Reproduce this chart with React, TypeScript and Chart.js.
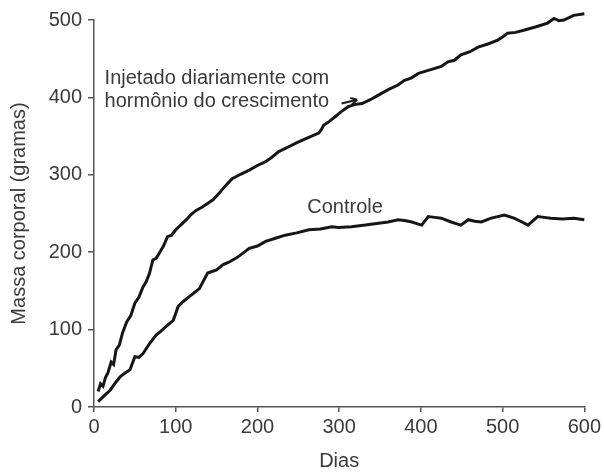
import React, { useEffect, useRef } from "react";
import { Chart, registerables } from "chart.js";

Chart.register(...registerables);

const growthDays = [5, 8, 11, 14, 17, 21, 24, 27, 31, 35, 40, 45, 50, 55, 60, 64, 68, 72, 76, 80, 85, 90, 95, 100, 107, 113, 119, 125, 132, 139, 146, 153, 161, 169, 180, 190, 200, 210, 218, 226, 236, 247, 260, 275, 278, 281, 288, 295, 303, 311, 320, 328, 338, 348, 360, 372, 380, 388, 397, 409, 425, 433, 441, 449, 460, 470, 482, 494, 500, 506, 516, 527, 540, 555, 563, 569, 575, 587, 600];
const growthMass = [20, 30, 27, 38, 44, 58, 55, 74, 80, 96, 110, 118, 134, 142, 155, 162, 173, 190, 192, 199, 208, 220, 222, 229, 236, 242, 249, 254, 258, 263, 268, 276, 286, 295, 301, 306, 312, 317, 323, 330, 335, 341, 347, 354, 358, 364, 369, 375, 382, 388, 391, 392, 397, 403, 410, 416, 422, 425, 431, 435, 440, 446, 448, 455, 459, 465, 469, 474, 478, 483, 484, 487, 491, 496, 502, 499, 500, 506, 508];

const controlDays = [5, 12, 20, 26, 32, 38, 44, 50, 55, 60, 68, 76, 82, 88, 97, 103, 110, 117, 123, 129, 139, 150, 158, 165, 175, 190, 200, 210, 222, 234, 248, 263, 277, 291, 299, 315, 332, 346, 360, 372, 380, 389, 395, 401, 409, 417, 425, 437, 443, 449, 458, 466, 474, 486, 494, 502, 514, 522, 531, 543, 551, 559, 573, 587, 600];
const controlMass = [7, 14, 22, 31, 39, 44, 48, 65, 64, 69, 82, 93, 98, 104, 112, 130, 137, 143, 148, 153, 173, 177, 184, 187, 193, 205, 208, 214, 218, 222, 225, 229, 230, 233, 232, 233, 235, 237, 239, 242, 241, 239, 237, 235, 246, 245, 244, 239, 237, 235, 242, 240, 239, 244, 246, 248, 244, 240, 235, 246, 245, 244, 243, 244, 242];

const xTicks = [0, 100, 200, 300, 400, 500, 600];
const yTicks = [0, 100, 200, 300, 400, 500];

const growthLabel = ["Injetado diariamente com", "hormônio do crescimento"];
const growthLabelAnchor = { day: 13, mass: 424 };
const controlLabel = "Controle";
const controlLabelAnchor = { day: 261, mass: 258 };
const arrowFrom = { day: 303, mass: 392 };
const arrowTo = { day: 322, mass: 397 };

const xTitle = "Dias";
const yTitle = "Massa corporal (gramas)";

const FONT = "'Liberation Sans', Arial, Helvetica, sans-serif";
const TEXT = "#3a3a3a";
const AXIS = "#555555";

export default function App() {
  const ref = useRef<HTMLCanvasElement | null>(null);

  useEffect(() => {
    if (!ref.current) return;
    const annot = {
      id: "annot",
      afterDatasetsDraw(chart: any) {
        const { ctx, scales } = chart;
        const xs = scales.x;
        const ys = scales.y;
        ctx.save();
        ctx.font = `20px ${FONT}`;
        ctx.fillStyle = TEXT;
        ctx.textBaseline = "middle";
        ctx.textAlign = "left";
        const gx = xs.getPixelForValue(growthLabelAnchor.day);
        const gy = ys.getPixelForValue(growthLabelAnchor.mass);
        growthLabel.forEach((t, i) => ctx.fillText(t, gx, gy + i * 23));
        ctx.fillText(
          controlLabel,
          xs.getPixelForValue(controlLabelAnchor.day),
          ys.getPixelForValue(controlLabelAnchor.mass)
        );
        const ax0 = xs.getPixelForValue(arrowFrom.day);
        const ay0 = ys.getPixelForValue(arrowFrom.mass);
        const ax1 = xs.getPixelForValue(arrowTo.day);
        const ay1 = ys.getPixelForValue(arrowTo.mass);
        ctx.strokeStyle = "#1a1a1a";
        ctx.lineWidth = 2;
        ctx.beginPath();
        ctx.moveTo(ax0, ay0);
        ctx.lineTo(ax1, ay1);
        ctx.stroke();
        const ang = Math.atan2(ay1 - ay0, ax1 - ax0);
        ctx.beginPath();
        ctx.moveTo(ax1, ay1);
        ctx.lineTo(ax1 - 7 * Math.cos(ang - 0.5), ay1 - 7 * Math.sin(ang - 0.5));
        ctx.moveTo(ax1, ay1);
        ctx.lineTo(ax1 - 7 * Math.cos(ang + 0.5), ay1 - 7 * Math.sin(ang + 0.5));
        ctx.stroke();
        ctx.restore();
      },
    };

    const chart = new Chart(ref.current, {
      type: "line",
      data: {
        datasets: [
          {
            label: "Injetado",
            data: growthDays.map((d, i) => ({ x: d, y: growthMass[i] })),
            borderColor: "#161616",
            borderWidth: 3,
            pointRadius: 0,
            tension: 0,
            fill: false,
            clip: false,
          },
          {
            label: "Controle",
            data: controlDays.map((d, i) => ({ x: d, y: controlMass[i] })),
            borderColor: "#161616",
            borderWidth: 3,
            pointRadius: 0,
            tension: 0,
            fill: false,
            clip: false,
          },
        ],
      },
      options: {
        animation: false,
        responsive: false,
        devicePixelRatio: 1,
        layout: { padding: { top: 20, right: 17, bottom: 0, left: 0 } },
        plugins: { legend: { display: false }, tooltip: { enabled: false } },
        scales: {
          x: {
            type: "linear",
            min: 0,
            max: 600,
            afterFit: (s: any) => {
              s.height = 66;
            },
            afterBuildTicks: (s: any) => {
              s.ticks = xTicks.map((v) => ({ value: v }));
            },
            ticks: { color: TEXT, font: { family: FONT, size: 20 }, padding: 3, maxRotation: 0 },
            grid: { display: true, drawOnChartArea: false, drawTicks: true, tickLength: 5, color: AXIS, lineWidth: 1.5 },
            border: { display: true, color: AXIS, width: 1.5 },
            title: { display: true, text: xTitle, color: TEXT, font: { family: FONT, size: 20 }, padding: { top: 0, bottom: 0 } },
          },
          y: {
            type: "linear",
            min: 0,
            max: 500,
            afterFit: (s: any) => {
              s.width = 94;
            },
            afterBuildTicks: (s: any) => {
              s.ticks = yTicks.map((v) => ({ value: v }));
            },
            ticks: { color: TEXT, font: { family: FONT, size: 20 }, padding: 6 },
            grid: { display: true, drawOnChartArea: false, drawTicks: true, tickLength: 6, color: AXIS, lineWidth: 1.5 },
            border: { display: true, color: AXIS, width: 1.5 },
            title: { display: true, text: yTitle, color: TEXT, font: { family: FONT, size: 20 }, padding: { top: 7, bottom: 0 } },
          },
        },
      },
      plugins: [annot],
    } as any);

    return () => chart.destroy();
  }, []);

  return (
    <canvas
      ref={ref}
      width={604}
      height={473}
      style={{ position: "absolute", left: 0, top: 0, width: 604, height: 473 }}
    />
  );
}
